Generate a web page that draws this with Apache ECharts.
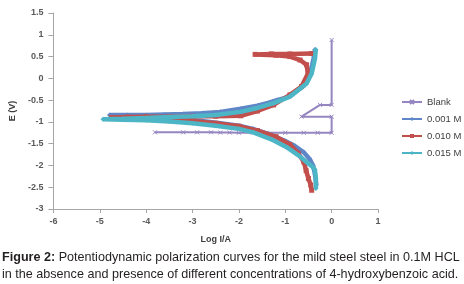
<!DOCTYPE html>
<html><head><meta charset="utf-8">
<script src="https://cdn.jsdelivr.net/npm/echarts@6/dist/echarts.min.js"></script>
<style>html,body{margin:0;padding:0;background:#fff}#c{width:464px;height:284px}</style>
</head><body><div id="c"></div>
<script>
// ---- data (log I/A, E/V) ----
const seriesNames = ['Blank', '0.001 M', '0.010 M', '0.015 M'];
const xTicks = [-6, -5, -4, -3, -2, -1, 0, 1];
const yTicks = [-3, -2.5, -2, -1.5, -1, -0.5, 0, 0.5, 1, 1.5];

const blankLogI = [-3.81, -3.2, -2.9, -2.6, -2.4, -2.2, -2.0, -1.7, -1.4, -1.0, -0.6, -0.3, 0, 0, -0.65, -0.25, 0, 0];
const blankE    = [-1.24, -1.24, -1.24, -1.24, -1.245, -1.245, -1.25, -1.25, -1.25, -1.25, -1.25, -1.25, -1.25, -0.88, -0.88, -0.61, -0.61, 0.88];

const m001LogI = [-0.33, -0.36, -0.4, -0.47, -0.6, -0.8, -1.0, -1.3, -1.7, -2.0, -2.4, -2.8, -3.2, -3.6, -4.0, -4.4, -4.79,
                  -4.4, -4.0, -3.6, -3.2, -2.8, -2.4, -1.96, -1.6, -1.35, -1.18, -1.0, -0.8, -0.6, -0.48, -0.42, -0.38, -0.36];
const m001E    = [-2.45, -2.2, -2.0, -1.86, -1.7, -1.55, -1.44, -1.3, -1.16, -1.09, -1.03, -0.98, -0.94, -0.91, -0.89, -0.87, -0.84,
                  -0.84, -0.84, -0.83, -0.82, -0.8, -0.77, -0.7, -0.63, -0.56, -0.5, -0.45, -0.33, -0.17, 0.05, 0.3, 0.5, 0.66];

const m010LogI = [-0.43, -0.45, -0.5, -0.55, -0.6, -0.72, -0.9, -1.2, -1.6, -2.0, -2.5, -3.0, -3.5, -4.0, -4.75,
                  -4.4, -4.0, -3.5, -3.0, -2.5, -1.96, -1.6, -1.25, -0.9, -0.65, -0.51, -0.54, -0.68, -0.9, -1.2, -1.65, -1.3, -0.9, -0.44];
const m010E    = [-2.57, -2.45, -2.3, -2.12, -1.92, -1.72, -1.52, -1.34, -1.2, -1.1, -1.03, -0.98, -0.95, -0.93, -0.9,
                  -0.89, -0.88, -0.88, -0.87, -0.87, -0.86, -0.75, -0.61, -0.38, -0.19, 0.11, 0.31, 0.42, 0.5, 0.53, 0.55, 0.56, 0.56, 0.57];

const m015LogI = [-0.34, -0.34, -0.36, -0.42, -0.51, -0.7, -0.97, -1.3, -1.69, -2.0, -2.5, -3.0, -3.5, -4.0, -4.5, -4.93,
                  -4.5, -4.0, -3.5, -3.0, -2.5, -1.96, -1.6, -1.25, -0.9, -0.54, -0.43, -0.36, -0.34];
const m015E    = [-2.53, -2.3, -2.1, -2.02, -1.95, -1.78, -1.58, -1.4, -1.24, -1.16, -1.09, -1.03, -0.99, -0.96, -0.95, -0.94,
                  -0.93, -0.91, -0.89, -0.87, -0.84, -0.77, -0.68, -0.57, -0.42, -0.12, 0.11, 0.45, 0.66];

const xTitle = 'Log I/A';
const yTitle = 'E (V)';
const caption1 = 'Potentiodynamic polarization curves for the mild steel steel in 0.1M HCL';
const caption2 = 'in the absence and presence of different concentrations of 4-hydroxybenzoic acid.';

function pairs(a, b) { return a.map((v, i) => [v, b[i]]); }

const colors = ['#9585c0', '#5f87c7', '#c24f4c', '#4db6c6'];
const symbols = ['path://M0,0L10,10M10,0L0,10', 'diamond', 'rect', 'diamond'];
const datasets = [pairs(blankLogI, blankE), pairs(m001LogI, m001E), pairs(m010LogI, m010E), pairs(m015LogI, m015E)];

const chart = echarts.init(document.getElementById('c'), null, {renderer: 'canvas'});
const axisLabel = {color: '#595959', fontSize: 9, fontWeight: 'bold', fontFamily: 'Liberation Sans'};
chart.setOption({
  animation: false,
  grid: {left: 52, right: 86, top: 13, bottom: 75, containLabel: false},
  xAxis: {
    type: 'value', min: -6, max: 1, interval: 1,
    axisLine: {show: true, onZero: false, lineStyle: {color: '#a6a6a6', width: 1}},
    axisTick: {show: true, length: 4, lineStyle: {color: '#a6a6a6'}},
    splitLine: {show: false},
    axisLabel: Object.assign({margin: 8}, axisLabel),
    name: xTitle, nameLocation: 'middle', nameGap: 26,
    nameTextStyle: {color: '#404040', fontSize: 9, fontWeight: 'bold', fontFamily: 'Liberation Sans'}
  },
  yAxis: {
    type: 'value', min: -3, max: 1.5, interval: 0.5,
    axisLine: {show: true, onZero: false, lineStyle: {color: '#a6a6a6', width: 1}},
    axisTick: {show: true, length: 5, lineStyle: {color: '#a6a6a6'}},
    splitLine: {show: false},
    axisLabel: Object.assign({margin: 10}, axisLabel),
    name: yTitle, nameLocation: 'middle', nameGap: 33, nameRotate: 90,
    nameTextStyle: {color: '#404040', fontSize: 9, fontWeight: 'bold', fontFamily: 'Liberation Sans'}
  },
  legend: {
    orient: 'vertical', left: 396, top: 92, itemWidth: 20, itemHeight: 5, itemGap: 7,
    textStyle: {color: '#404040', fontSize: 9.5, fontFamily: 'Liberation Sans'},
    data: seriesNames
  },
  series: seriesNames.map((n, i) => ({
    name: n, type: 'line', data: datasets[i],
    showSymbol: true, symbol: symbols[i], symbolSize: i === 0 ? 4 : 5,
    lineStyle: {color: colors[i], width: i === 0 ? 2 : 4.5},
    itemStyle: {color: colors[i], borderColor: colors[i], borderWidth: i === 0 ? 1 : 0},
    z: 2 + i
  })),
  graphic: [
    {type: 'text', left: 2, top: 251, style: {
      text: '{b|Figure 2:} ' + caption1,
      rich: {b: {fontWeight: 'bold', fontSize: 12.6, fontFamily: 'Liberation Sans', fill: '#231f20'}},
      fontSize: 12.6, fontFamily: 'Liberation Sans', fill: '#231f20'}},
    {type: 'text', left: 2, top: 268, style: {
      text: caption2, fontSize: 12.6, fontFamily: 'Liberation Sans', fill: '#231f20'}}
  ]
});
</script></body></html>
